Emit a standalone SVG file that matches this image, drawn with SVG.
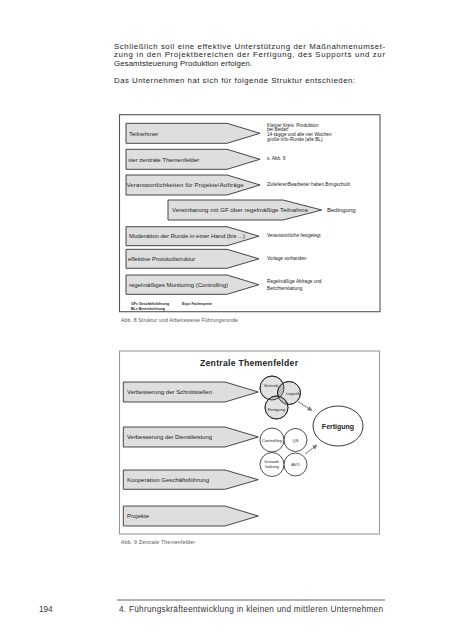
<svg xmlns="http://www.w3.org/2000/svg" width="452" height="640" viewBox="0 0 452 640">
<defs>
<style>
text{font-family:"Liberation Sans",Arial,sans-serif;fill:#222}
.body{font-size:7.8px}
.foot{font-size:8.2px;fill:#333}
.pt{font-size:6px}
.sm{font-size:4.7px}
.lg{font-size:3.5px;font-weight:bold}
.cap{font-size:5.2px;fill:#555}
.ct{font-size:4.2px;text-anchor:middle}
.pent{fill:#dedede;stroke:#333;stroke-width:0.9}
.frame{fill:#fff;stroke:#555;stroke-width:1.1}
.frame2{fill:#fff;stroke:#999;stroke-width:1.1}
.circ{fill:#e2e2e2;stroke:#222;stroke-width:0.8}
.circw{fill:#fff;stroke:#222;stroke-width:0.8}
.arr{stroke:#777;stroke-width:1;fill:none}
</style>
<pattern id="hatch" width="2" height="2" patternUnits="userSpaceOnUse" patternTransform="rotate(45)">
<line x1="0" y1="0" x2="0" y2="2" stroke="#222" stroke-width="0.7"/>
</pattern>
<marker id="ah" viewBox="0 0 10 10" refX="9" refY="5" markerWidth="5" markerHeight="5" orient="auto">
<path d="M0,0 L10,5 L0,10 z" fill="#777"/>
</marker>
<clipPath id="cV"><circle cx="272" cy="388" r="12"/></clipPath>
<clipPath id="cL"><circle cx="289" cy="393" r="11.5"/></clipPath>
</defs>

<g id="bodytext">
<text class="body" x="114" y="48.5" textLength="271" lengthAdjust="spacing">Schließlich soll eine effektive Unterstützung der Maßnahmenumset-</text>
<text class="body" x="114" y="57" textLength="271" lengthAdjust="spacing">zung in den Projektbereichen der Fertigung, des Supports und zur</text>
<text class="body" x="114" y="65.5" textLength="138" lengthAdjust="spacing">Gesamtsteuerung Produktion erfolgen.</text>
<text class="body" x="114" y="82.5" textLength="241" lengthAdjust="spacing">Das Unternehmen hat sich für folgende Struktur entschieden:</text>
</g>

<g id="frame1">
<rect class="frame" x="119.5" y="114.7" width="260.5" height="197"/>
</g>

<g id="n-teilnehmer">
<path class="pent" d="M126,123.3 H227 L260,133.3 L227,143.3 H126 Z"/>
<text class="pt" x="129" y="135.5">Teilnehmer</text>
<text class="sm" x="267" y="126.5">Kleiner Kreis: Produktion</text>
<text class="sm" x="267" y="131.2">bei Bedarf</text>
<text class="sm" x="267" y="135.9">14-tägige und alle vier Wochen</text>
<text class="sm" x="267" y="140.6">große Info-Runde (alle BL)</text>
</g>
<g id="n-themenfelder">
<path class="pent" d="M126,149.3 H227 L260,159.3 L227,169.3 H126 Z"/>
<text class="pt" x="128" y="161.5">vier zentrale Themenfelder</text>
<text class="sm" x="267" y="159.5">s. Abb. 9</text>
</g>
<g id="n-verantwortlichkeiten">
<path class="pent" d="M126,175 H227 L260,185 L227,195 H126 Z"/>
<text class="pt" x="126.5" y="187.2" textLength="117" lengthAdjust="spacing">Verantwortlichkeiten für Projekte/Aufträge</text>
<text class="sm" x="267" y="186.3">Zulieferer/Bearbeiter haben Bringschuld</text>
</g>
<g id="n-vereinbarung">
<path class="pent" d="M168,200 H283 L321.7,210 L283,220 H168 Z"/>
<text class="pt" x="172" y="212.2" textLength="136" lengthAdjust="spacing">Vereinbarung mit GF über regelmäßige Teilnahme</text>
<text class="pt" x="327" y="212.2">Bedingung</text>
</g>
<g id="n-moderation">
<path class="pent" d="M126,226.7 H227 L259,236.2 L227,245.7 H126 Z"/>
<text class="pt" x="129" y="238.4" textLength="116" lengthAdjust="spacing">Moderation der Runde in einer Hand (bis ...)</text>
<text class="sm" x="267" y="236.8">Verantwortliche festgelegt</text>
</g>
<g id="n-protokoll">
<path class="pent" d="M126,249.3 H227 L259,258.8 L227,268.3 H126 Z"/>
<text class="pt" x="128" y="261">effektive Protokollstruktur</text>
<text class="sm" x="267" y="260">Vorlage vorhanden</text>
</g>
<g id="n-monitoring">
<path class="pent" d="M126,275 H227 L259,284.7 L227,294.3 H126 Z"/>
<text class="pt" x="129" y="286.9" textLength="99" lengthAdjust="spacing">regelmäßiges Monitoring (Controlling)</text>
<text class="sm" x="267" y="283.3">Regelmäßige Abfrage und</text>
<text class="sm" x="267" y="290">Berichterstattung</text>
</g>
<g id="legend">
<text class="lg" x="131" y="304.5">GF= Geschäftsführung</text>
<text class="lg" x="131" y="310">BL= Bereichsleitung</text>
<text class="lg" x="182" y="304.5">Exp= Fachexperte</text>
</g>
<text class="cap" x="121" y="321.5" textLength="117" lengthAdjust="spacing">Abb. 8 Struktur und Arbeitsweise Führungsrunde</text>

<g id="frame2">
<rect class="frame2" x="119.5" y="351" width="260" height="183"/>
<text x="249" y="366" style="font-size:8.6px;font-weight:bold;text-anchor:middle" textLength="98" lengthAdjust="spacing">Zentrale  Themenfelder</text>
</g>

<g id="n-schnittstellen">
<path class="pent" d="M123.3,382 H225 L258.3,392 L225,402 H123.3 Z"/>
<text class="pt" x="127" y="394.2" textLength="85" lengthAdjust="spacing">Verbesserung der Schnittstellen</text>
</g>
<g id="n-dienstleistung">
<path class="pent" d="M123.3,427 H225 L258.3,437 L225,447 H123.3 Z"/>
<text class="pt" x="127" y="439.2" textLength="85" lengthAdjust="spacing">Verbesserung der Dienstleistung</text>
</g>
<g id="n-kooperation">
<path class="pent" d="M123.3,470 H225 L258.3,479.7 L225,489.3 H123.3 Z"/>
<text class="pt" x="127" y="481.9" textLength="82" lengthAdjust="spacing">Kooperation Geschäftsführung</text>
</g>
<g id="n-projekte">
<path class="pent" d="M123.3,506 H225 L258.3,516 L225,526 H123.3 Z"/>
<text class="pt" x="127" y="518.2">Projekte</text>
</g>

<g id="n-kreise-oben">
<circle class="circ" cx="272" cy="388" r="12"/>
<circle class="circ" cx="289" cy="393" r="11.5"/>
<circle class="circ" cx="276.5" cy="407.5" r="11.5"/>
<circle cx="289" cy="393" r="11.5" fill="url(#hatch)" clip-path="url(#cV)"/>
<circle cx="276.5" cy="407.5" r="11.5" fill="url(#hatch)" clip-path="url(#cV)"/>
<circle cx="276.5" cy="407.5" r="11.5" fill="url(#hatch)" clip-path="url(#cL)"/>
<circle cx="272" cy="388" r="12" fill="none" stroke="#222" stroke-width="0.8"/>
<circle cx="289" cy="393" r="11.5" fill="none" stroke="#222" stroke-width="0.8"/>
<circle cx="276.5" cy="407.5" r="11.5" fill="none" stroke="#222" stroke-width="0.8"/>
<text class="ct" x="271" y="387">Vertrieb</text>
<text class="ct" x="293" y="395">Logistik</text>
<text class="ct" x="276.5" y="411">Fertigung</text>
</g>

<g id="n-kreise-unten">
<circle class="circw" cx="272" cy="440" r="12"/>
<circle class="circw" cx="295.5" cy="440" r="11.5"/>
<circle class="circw" cx="272" cy="464.5" r="12"/>
<circle class="circw" cx="295.5" cy="464.5" r="11.5"/>
<text class="ct" x="272" y="441.5">Controlling</text>
<text class="ct" x="295.5" y="441.5">QS</text>
<text class="ct" x="272" y="463">Instand-</text>
<text class="ct" x="272" y="468">haltung</text>
<text class="ct" x="295.5" y="466">AVO</text>
</g>

<g id="n-fertigung">
<ellipse cx="338" cy="426" rx="25" ry="20" fill="#fff" stroke="#222" stroke-width="0.9"/>
<text x="338" y="428.5" style="font-size:7px;font-weight:bold;text-anchor:middle">Fertigung</text>
</g>

<g id="connectors">
<line class="arr" x1="298" y1="401.7" x2="312" y2="410.5" marker-end="url(#ah)"/>
<line class="arr" x1="305" y1="454" x2="317" y2="445" marker-end="url(#ah)"/>
</g>

<text class="cap" x="121" y="543.5" textLength="74" lengthAdjust="spacing">Abb. 9 Zentrale Themenfelder</text>

<g id="footer">
<line x1="117" y1="600" x2="385" y2="600" stroke="#999" stroke-width="1.3"/>
<text class="foot" x="39" y="612">194</text>
<text class="foot" x="119" y="612" textLength="264" lengthAdjust="spacing">4. Führungskräfteentwicklung in kleinen und mittleren Unternehmen</text>
</g>
</svg>
